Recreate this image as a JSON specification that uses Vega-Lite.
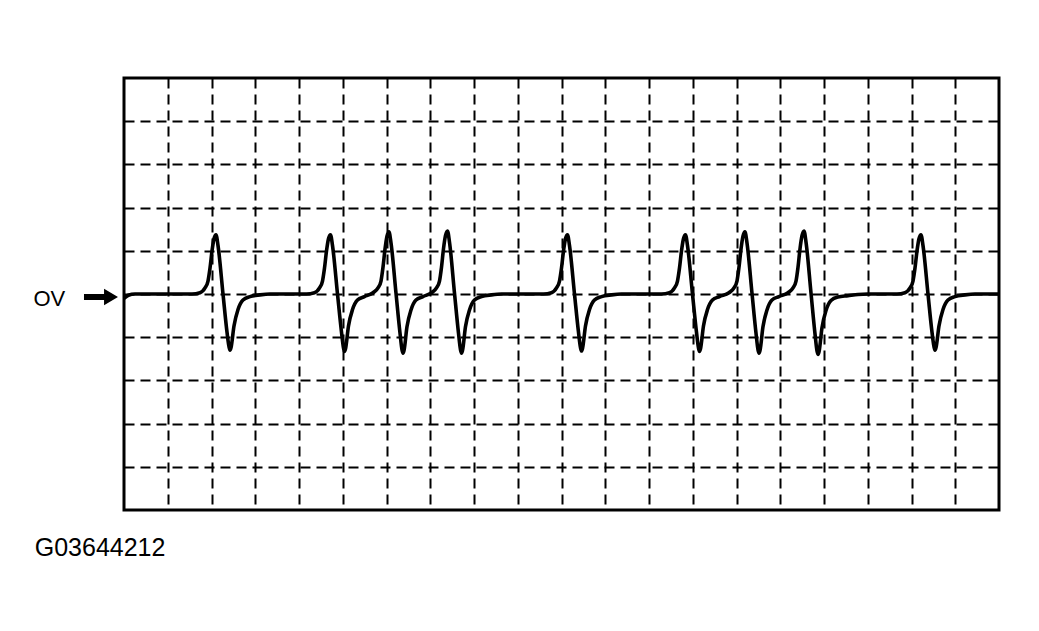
{
  "$schema": "https://vega.github.io/schema/vega-lite/v6.json",
  "width": 875,
  "height": 432,
  "autosize": {"type": "none"},
  "padding": {"left": 124, "top": 78, "right": 40, "bottom": 121},
  "background": "white",
  "config": {"view": {"stroke": "black", "strokeWidth": 3}},
  "encoding": {
    "x": {"field": "x", "type": "quantitative",
      "scale": {"domain": [0, 20], "nice": false, "zero": false},
      "axis": {"values": [1,2,3,4,5,6,7,8,9,10,11,12,13,14,15,16,17,18,19], "grid": true, "gridDash": [10, 6], "gridColor": "black", "gridWidth": 2, "gridOpacity": 1, "labels": false, "ticks": false, "domain": false, "title": null}},
    "y": {"field": "y", "type": "quantitative",
      "scale": {"domain": [-5, 5], "nice": false, "zero": false},
      "axis": {"values": [-4,-3,-2,-1,0,1,2,3,4], "grid": true, "gridDash": [10, 6], "gridColor": "black", "gridWidth": 2, "gridOpacity": 1, "labels": false, "ticks": false, "domain": false, "title": null}}
  },
  "layer": [
    {
      "data": {"values": [
        {"x": 0, "y": -0.10}, {"x": 0.10, "y": -0.03}, {"x": 0.25, "y": 0},
        {"x": 1.554, "y": 0}, {"x": 1.737, "y": 0.03}, {"x": 1.852, "y": 0.14}, {"x": 1.920, "y": 0.30}, {"x": 1.966, "y": 0.60}, {"x": 2.012, "y": 1.00}, {"x": 2.057, "y": 1.28}, {"x": 2.103, "y": 1.37}, {"x": 2.149, "y": 1.12}, {"x": 2.263, "y": 0.0}, {"x": 2.354, "y": -0.88}, {"x": 2.400, "y": -1.22}, {"x": 2.423, "y": -1.30}, {"x": 2.446, "y": -1.24}, {"x": 2.514, "y": -0.74}, {"x": 2.606, "y": -0.36}, {"x": 2.720, "y": -0.14}, {"x": 2.880, "y": -0.06}, {"x": 3.109, "y": -0.02}, {"x": 3.337, "y": 0},
        {"x": 4.171, "y": 0}, {"x": 4.354, "y": 0.03}, {"x": 4.469, "y": 0.14}, {"x": 4.537, "y": 0.30}, {"x": 4.583, "y": 0.60}, {"x": 4.629, "y": 1.00}, {"x": 4.674, "y": 1.28}, {"x": 4.720, "y": 1.37}, {"x": 4.766, "y": 1.12}, {"x": 4.880, "y": 0.0}, {"x": 4.971, "y": -0.88}, {"x": 5.017, "y": -1.25}, {"x": 5.040, "y": -1.33}, {"x": 5.063, "y": -1.27}, {"x": 5.131, "y": -0.74}, {"x": 5.223, "y": -0.36}, {"x": 5.337, "y": -0.14}, {"x": 5.497, "y": -0.06},
        {"x": 5.691, "y": 0.03}, {"x": 5.806, "y": 0.14}, {"x": 5.874, "y": 0.30}, {"x": 5.920, "y": 0.62}, {"x": 5.966, "y": 1.04}, {"x": 6.011, "y": 1.34}, {"x": 6.057, "y": 1.44}, {"x": 6.103, "y": 1.18}, {"x": 6.217, "y": 0.02}, {"x": 6.308, "y": -0.90}, {"x": 6.354, "y": -1.29}, {"x": 6.377, "y": -1.37}, {"x": 6.400, "y": -1.31}, {"x": 6.468, "y": -0.76}, {"x": 6.560, "y": -0.37}, {"x": 6.674, "y": -0.14}, {"x": 6.834, "y": -0.06},
        {"x": 7.028, "y": 0.03}, {"x": 7.143, "y": 0.14}, {"x": 7.211, "y": 0.30}, {"x": 7.257, "y": 0.62}, {"x": 7.303, "y": 1.05}, {"x": 7.348, "y": 1.35}, {"x": 7.394, "y": 1.46}, {"x": 7.440, "y": 1.20}, {"x": 7.554, "y": 0.02}, {"x": 7.645, "y": -0.90}, {"x": 7.691, "y": -1.29}, {"x": 7.714, "y": -1.37}, {"x": 7.737, "y": -1.31}, {"x": 7.805, "y": -0.76}, {"x": 7.897, "y": -0.37}, {"x": 8.011, "y": -0.14}, {"x": 8.171, "y": -0.06}, {"x": 8.400, "y": -0.02}, {"x": 8.629, "y": 0},
        {"x": 9.588, "y": 0}, {"x": 9.771, "y": 0.03}, {"x": 9.886, "y": 0.14}, {"x": 9.954, "y": 0.30}, {"x": 10.000, "y": 0.60}, {"x": 10.046, "y": 1.00}, {"x": 10.091, "y": 1.28}, {"x": 10.137, "y": 1.37}, {"x": 10.183, "y": 1.12}, {"x": 10.297, "y": 0.0}, {"x": 10.388, "y": -0.88}, {"x": 10.434, "y": -1.24}, {"x": 10.457, "y": -1.32}, {"x": 10.480, "y": -1.26}, {"x": 10.548, "y": -0.74}, {"x": 10.640, "y": -0.36}, {"x": 10.754, "y": -0.14}, {"x": 10.914, "y": -0.06}, {"x": 11.143, "y": -0.02}, {"x": 11.371, "y": 0},
        {"x": 12.285, "y": 0}, {"x": 12.468, "y": 0.03}, {"x": 12.583, "y": 0.14}, {"x": 12.651, "y": 0.30}, {"x": 12.697, "y": 0.60}, {"x": 12.743, "y": 1.00}, {"x": 12.788, "y": 1.28}, {"x": 12.834, "y": 1.37}, {"x": 12.880, "y": 1.12}, {"x": 12.994, "y": 0.0}, {"x": 13.085, "y": -0.88}, {"x": 13.131, "y": -1.25}, {"x": 13.154, "y": -1.33}, {"x": 13.177, "y": -1.27}, {"x": 13.245, "y": -0.74}, {"x": 13.337, "y": -0.36}, {"x": 13.451, "y": -0.14}, {"x": 13.611, "y": -0.06},
        {"x": 13.828, "y": 0.03}, {"x": 13.943, "y": 0.14}, {"x": 14.011, "y": 0.30}, {"x": 14.057, "y": 0.62}, {"x": 14.103, "y": 1.04}, {"x": 14.148, "y": 1.34}, {"x": 14.194, "y": 1.44}, {"x": 14.240, "y": 1.18}, {"x": 14.354, "y": 0.02}, {"x": 14.445, "y": -0.90}, {"x": 14.491, "y": -1.29}, {"x": 14.514, "y": -1.37}, {"x": 14.537, "y": -1.31}, {"x": 14.605, "y": -0.76}, {"x": 14.697, "y": -0.37}, {"x": 14.811, "y": -0.14}, {"x": 14.971, "y": -0.06},
        {"x": 15.177, "y": 0.03}, {"x": 15.292, "y": 0.14}, {"x": 15.360, "y": 0.30}, {"x": 15.406, "y": 0.62}, {"x": 15.452, "y": 1.05}, {"x": 15.497, "y": 1.35}, {"x": 15.543, "y": 1.46}, {"x": 15.589, "y": 1.20}, {"x": 15.703, "y": 0.02}, {"x": 15.794, "y": -0.92}, {"x": 15.840, "y": -1.32}, {"x": 15.863, "y": -1.40}, {"x": 15.886, "y": -1.34}, {"x": 15.954, "y": -0.78}, {"x": 16.046, "y": -0.38}, {"x": 16.160, "y": -0.15}, {"x": 16.320, "y": -0.07}, {"x": 16.549, "y": -0.04}, {"x": 16.777, "y": -0.01}, {"x": 17.006, "y": 0},
        {"x": 17.668, "y": 0}, {"x": 17.851, "y": 0.03}, {"x": 17.966, "y": 0.14}, {"x": 18.034, "y": 0.30}, {"x": 18.080, "y": 0.60}, {"x": 18.126, "y": 1.00}, {"x": 18.171, "y": 1.28}, {"x": 18.217, "y": 1.37}, {"x": 18.263, "y": 1.12}, {"x": 18.377, "y": 0.0}, {"x": 18.468, "y": -0.88}, {"x": 18.514, "y": -1.22}, {"x": 18.537, "y": -1.30}, {"x": 18.560, "y": -1.24}, {"x": 18.628, "y": -0.74}, {"x": 18.720, "y": -0.36}, {"x": 18.834, "y": -0.14}, {"x": 18.994, "y": -0.06}, {"x": 19.223, "y": -0.02}, {"x": 19.451, "y": 0},
        {"x": 20.0, "y": 0}
      ]},
      "mark": {"type": "line", "color": "black", "strokeWidth": 3.6, "interpolate": "monotone", "strokeJoin": "round", "strokeCap": "round", "clip": true}
    },
    {
      "data": {"values": [{"x": -0.526, "y": -0.07}]},
      "mark": {"type": "point", "shape": "M-1,-0.18L0.18,-0.18L0.18,-0.48L1,0L0.18,0.48L0.18,0.18L-1,0.18Z", "size": 1156, "filled": true, "color": "black", "opacity": 1, "strokeWidth": 0}
    },
    {
      "data": {"values": [{"x": -2.07, "y": -0.278, "label": "OV"}]},
      "mark": {"type": "text", "align": "left", "baseline": "alphabetic", "font": "Liberation Sans", "fontSize": 22, "color": "black"},
      "encoding": {"text": {"field": "label"}}
    },
    {
      "data": {"values": [{"x": -2.04, "y": -6.065, "label": "G03644212"}]},
      "mark": {"type": "text", "align": "left", "baseline": "alphabetic", "font": "Liberation Sans", "fontSize": 25, "color": "black"},
      "encoding": {"text": {"field": "label"}}
    }
  ]
}
